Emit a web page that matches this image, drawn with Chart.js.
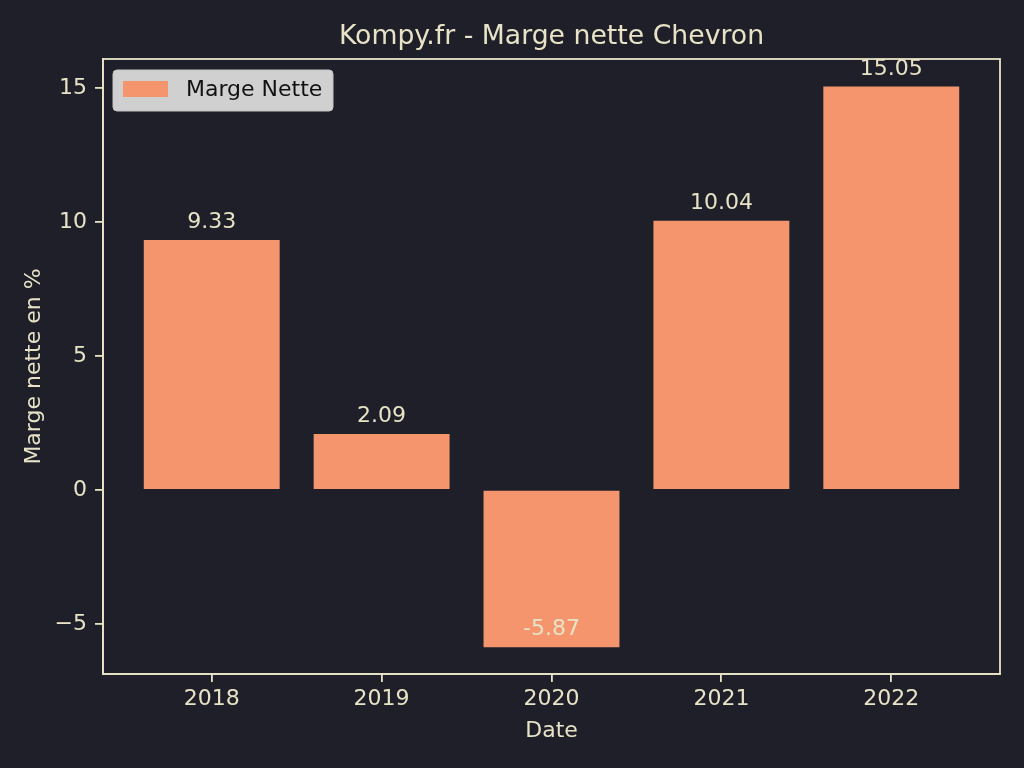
<!DOCTYPE html>
<html>
<head>
<meta charset="utf-8">
<script src="https://cdn.jsdelivr.net/npm/chart.js@4/dist/chart.umd.min.js"></script>
<style>
  html, body { margin: 0; padding: 0; background: #1e1f29; }
  #wrap { width: 1024px; height: 768px; }
</style>
</head>
<body>
<div id="wrap"><canvas id="chart-marge"></canvas></div>
<script>
const years = ["2018", "2019", "2020", "2021", "2022"];
const margeNette = [9.33, 2.09, -5.87, 10.04, 15.05];
const yTicks = [-5, 0, 5, 10, 15];

const bg = "#1e1f29";
const cream = "#e8e3c6";
const barColor = "#f4956e";
const font = "'DejaVu Sans', sans-serif";
const titre = "Kompy.fr - Marge nette Chevron";

// fond + titre centré sur la zone du graphe + cadre + étiquettes + légende
const decor = {
    id: "decor",
    beforeDraw(chart) {
        const ctx = chart.ctx;
        ctx.save();
        ctx.fillStyle = bg;
        ctx.fillRect(0, 0, chart.width, chart.height);
        ctx.restore();
    },
    afterDatasetsDraw(chart) {
        const ctx = chart.ctx;
        const area = chart.chartArea;
        const meta = chart.getDatasetMeta(0);
        ctx.save();

        ctx.font = "26.7px " + font;
        ctx.fillStyle = cream;
        ctx.textAlign = "center";
        ctx.textBaseline = "middle";
        ctx.fillText(titre, (area.left + area.right) / 2, area.top - 22);

        ctx.font = "22px " + font;
        ctx.textBaseline = "alphabetic";
        meta.data.forEach(function (bar, i) {
            ctx.fillText(margeNette[i].toFixed(2), bar.x, bar.y - 12);
        });

        // cadre
        ctx.strokeStyle = cream;
        ctx.lineWidth = 1.8;
        ctx.strokeRect(area.left, area.top, area.right - area.left, area.bottom - area.top);

        // légende
        const lx = area.left + 10, ly = area.top + 11, lw = 220, lh = 41, r = 4;
        ctx.beginPath();
        ctx.roundRect(lx, ly, lw, lh, r);
        ctx.fillStyle = "#d0d0d0";
        ctx.fill();
        ctx.strokeStyle = "#c4c4c4";
        ctx.lineWidth = 1;
        ctx.stroke();
        ctx.fillStyle = barColor;
        ctx.fillRect(lx + 10, ly + 11, 45, 16);
        ctx.fillStyle = "#111111";
        ctx.textAlign = "left";
        ctx.textBaseline = "middle";
        ctx.font = "22px " + font;
        ctx.fillText(chart.data.datasets[0].label, lx + 73, ly + 20);
        ctx.restore();
    }
};

const chartData = {
    datasets: [{
        label: "Marge Nette",
        backgroundColor: barColor,
        data: margeNette.map(function (v, i) { return { x: i, y: v }; }),
        barPercentage: 0.8,
        categoryPercentage: 1.0,
    }],
};

new Chart(document.getElementById("chart-marge").getContext("2d"), {
    type: "bar",
    data: chartData,
    plugins: [decor],
    options: {
        responsive: true,
        maintainAspectRatio: false,
        animation: false,
        layout: { padding: { left: 0, right: 24, top: 59, bottom: 0 } },
        plugins: {
            legend: { display: false },
            tooltip: { enabled: false },
            title: { display: false },
        },
        scales: {
            x: {
                type: "linear",
                min: -0.64,
                max: 4.64,
                offset: false,
                afterBuildTicks: function (scale) {
                    scale.ticks = years.map(function (y, i) { return { value: i }; });
                },
                afterFit: function (scale) { scale.height = 94; },
                ticks: {
                    color: cream,
                    font: { family: font, size: 22 },
                    padding: 4,
                    maxRotation: 0,
                    callback: function (v) { return years[v]; },
                },
                grid: { display: true, offset: false, drawOnChartArea: false, drawTicks: true, tickLength: 8, color: cream, lineWidth: 1.8 },
                border: { display: true, color: cream, width: 1.8 },
                title: {
                    display: true,
                    text: "Date",
                    color: cream,
                    font: { family: font, size: 22 },
                    padding: { top: 4, bottom: 24 },
                },
            },
            y: {
                min: -6.87,
                max: 16.08,
                afterBuildTicks: function (scale) {
                    scale.ticks = yTicks.map(function (v) { return { value: v }; });
                },
                afterFit: function (scale) { scale.width = 103; },
                ticks: {
                    color: cream,
                    font: { family: font, size: 22 },
                    padding: 8,
                    callback: function (v) { return String(v).replace("-", "\u2212"); },
                },
                grid: { display: true, drawOnChartArea: false, drawTicks: true, tickLength: 8, color: cream, lineWidth: 1.8 },
                border: { display: true, color: cream, width: 1.8 },
                title: {
                    display: true,
                    text: "Marge nette en %",
                    color: cream,
                    font: { family: font, size: 22 },
                    padding: { top: 21, bottom: 4 },
                },
            },
        },
    },
});
</script>
</body>
</html>
